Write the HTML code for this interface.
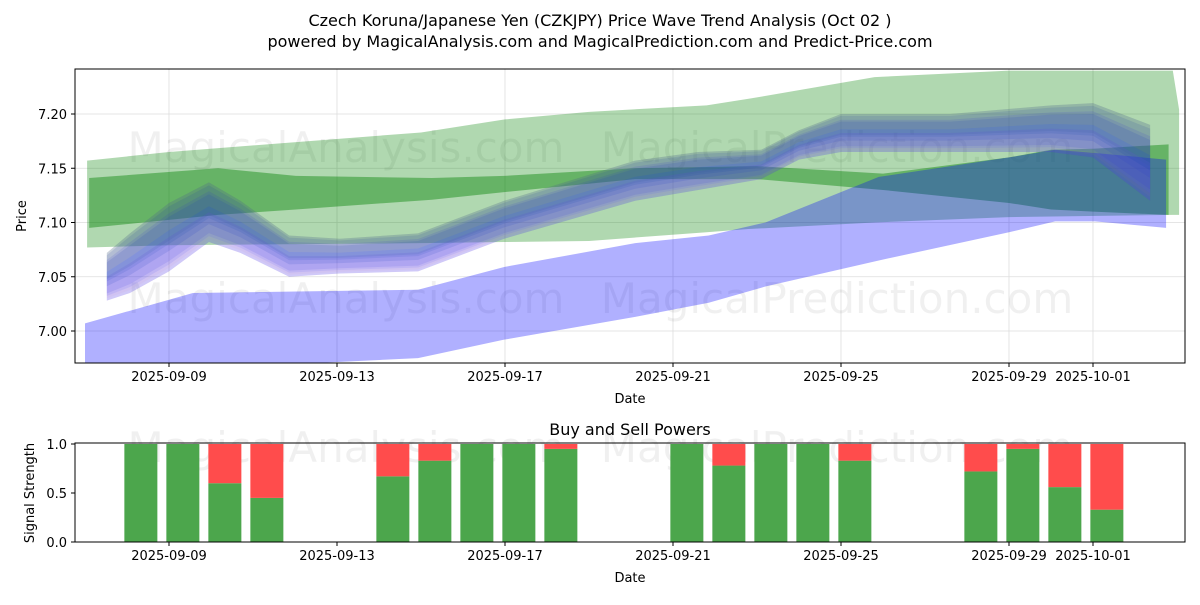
<!DOCTYPE html>
<html><head><meta charset="utf-8"><style>
body{margin:0;background:#fff;font-family:"Liberation Sans","DejaVu Sans",sans-serif;}
svg text{font-family:"DejaVu Sans","Liberation Sans",sans-serif;}
</style></head><body>
<svg id="chart" width="1200" height="600" xmlns="http://www.w3.org/2000/svg">
<rect width="1200" height="600" fill="#fff"/>
<text x="600" y="26" font-size="16" text-anchor="middle">Czech Koruna/Japanese Yen (CZKJPY) Price Wave Trend Analysis (Oct 02 )</text>
<text x="600" y="47" font-size="16" text-anchor="middle">powered by MagicalAnalysis.com and MagicalPrediction.com and Predict-Price.com</text>
<g id="topg"></g><g id="bottomg"></g>
</svg>
<script>
const NS='http://www.w3.org/2000/svg';
// ---- data ----
const xTickDays=[0,4,8,12,16,20,22];
const xTickLabels=['2025-09-09','2025-09-13','2025-09-17','2025-09-21','2025-09-25','2025-09-29','2025-10-01'];
const yTicks=[7.00,7.05,7.10,7.15,7.20];
const lightGreenDays=[-1.95,0,6,8,10,12.8,13.8,16.8,20,23.9,24.05];
const lightGreenUpper=[7.157,7.165,7.183,7.195,7.202,7.208,7.214,7.234,7.240,7.240,7.204];
const lightGreenLower=[7.077,7.079,7.081,7.082,7.083,7.091,7.094,7.100,7.105,7.107,7.107];
const darkGreenDays=[-1.9,1.17,3.02,6.26,7.98,11.1,14,17,20,21,22,23.8];
const darkGreenUpper=[7.141,7.150,7.143,7.141,7.143,7.150,7.152,7.145,7.160,7.167,7.168,7.172];
const darkGreenLower=[7.095,7.107,7.112,7.121,7.128,7.140,7.140,7.130,7.118,7.112,7.110,7.107];
const blueDays=[-2.0,0.57,5.93,7.98,11.1,12.85,14.2,16.9,20,21.1,22.05,23.74];
const blueUpper=[7.007,7.035,7.038,7.059,7.081,7.088,7.100,7.142,7.160,7.167,7.164,7.158];
const blueLower=[6.940,6.965,6.975,6.992,7.013,7.026,7.041,7.065,7.091,7.101,7.101,7.095];
const waveDays=[-1.48,-0.93,0,0.95,1.7,2.86,4.07,5.93,7.98,11.1,12.6,14.1,15,16,18.6,21,22,23.36];
const waveUpper=[7.072,7.09,7.118,7.137,7.12,7.088,7.085,7.09,7.12,7.157,7.165,7.167,7.185,7.200,7.200,7.208,7.210,7.19];
const waveLower=[7.028,7.035,7.055,7.082,7.072,7.050,7.053,7.055,7.085,7.120,7.130,7.140,7.158,7.165,7.165,7.165,7.160,7.120];
const barDays=[-0.67,0.33,1.33,2.33,5.33,6.33,7.33,8.33,9.33,12.33,13.33,14.33,15.33,16.33,19.33,20.33,21.33,22.33];
const buyValues=[1,1,0.6,0.45,0.67,0.83,1,1,0.95,1,0.78,1,1,0.83,0.72,0.95,0.56,0.33];
// ---- scales ----
const X0=75,X1=1185;
const xs=d=>169+42*d;
const ys=v=>331-(v-7.0)*1085;
const T0=69,T1=363,B0=443,B1=542;
const yb=v=>B1-(v)*(B1-B0-1);
function el(tag,attrs,parent,text){const e=document.createElementNS(NS,tag);for(const k in attrs)e.setAttribute(k,attrs[k]);if(text!==undefined)e.textContent=text;parent.appendChild(e);return e;}
const topG=document.getElementById('topg'),botG=document.getElementById('bottomg');
const defs=el('defs',{},topG);
const cp=el('clipPath',{id:'cp'},defs);el('rect',{x:X0,y:T0,width:X1-X0,height:T1-T0},cp);
xTickDays.forEach(d=>{const g=el('line',{x1:xs(d),x2:xs(d),y1:T0,y2:T1,stroke:'#ddd','stroke-width':0.8},topG);});
yTicks.forEach(v=>{const g=el('line',{x1:X0,x2:X1,y1:ys(v),y2:ys(v),stroke:'#ddd','stroke-width':0.8},topG);});
[['MagicalAnalysis.com',346,162],['MagicalPrediction.com',837,162],['MagicalAnalysis.com',346,313],['MagicalPrediction.com',837,313]].forEach(w=>{const t=el('text',{x:w[1],y:w[2],'font-size':42,'text-anchor':'middle',fill:'#000','fill-opacity':0.06},topG,w[0]);});
const plot=el('g',{'clip-path':'url(#cp)'},topG);
function band(days,up,lo,fill,op,name,a=0,b=1){const pts=[];days.forEach((d,i)=>pts.push(xs(d)+','+ys(lo[i]+(up[i]-lo[i])*b)));for(let i=days.length-1;i>=0;i--)pts.push(xs(days[i])+','+ys(lo[i]+(up[i]-lo[i])*a));const p=el('polygon',{points:pts.join(' '),fill:fill,'fill-opacity':op},plot);return p;}
band(lightGreenDays,lightGreenUpper,lightGreenLower,'#008000',0.31,'light-green-band');
band(darkGreenDays,darkGreenUpper,darkGreenLower,'#008000',0.42,'dark-green-band');
band(blueDays,blueUpper,blueLower,'#0000ff',0.31,'blue-band');
const ens=[[0,0.5,'#ff6060',0.06],[0.05,0.4,'#ff8080',0.05],[0.45,1,'#2e8b57',0.14],[0.6,1,'#c08020',0.08],[0,1,'#4040ff',0.12],[0,0.6,'#3030ff',0.13],[0.15,0.85,'#3030e0',0.12],[0.3,0.8,'#2040c0',0.14],[0.4,0.95,'#2040a0',0.14],[0.1,0.5,'#5050ff',0.12]];
ens.forEach(e=>band(waveDays,waveUpper,waveLower,e[2],e[3],'wave-band',e[0],e[1]));
el('rect',{x:X0,y:T0,width:X1-X0,height:T1-T0,fill:'none',stroke:'#000','stroke-width':1},topG);
xTickDays.forEach((d,i)=>{el('line',{x1:xs(d),x2:xs(d),y1:T1,y2:T1+4,stroke:'#000'},topG);const t=el('text',{x:xs(d),y:T1+18,'font-size':13,'text-anchor':'middle'},topG,xTickLabels[i]);});
yTicks.forEach(v=>{el('line',{x1:X0-4,x2:X0,y1:ys(v),y2:ys(v),stroke:'#000'},topG);const t=el('text',{x:X0-8,y:ys(v)+5,'font-size':13,'text-anchor':'end'},topG,v.toFixed(2));});
el('text',{x:630,y:403,'font-size':13,'text-anchor':'middle',},topG,'Date');
el('text',{x:26,y:216,'font-size':13,'text-anchor':'middle',transform:'rotate(-90 26 216)',},topG,'Price');
el('text',{x:630,y:435,'font-size':16,'text-anchor':'middle',},botG,'Buy and Sell Powers');
[['MagicalAnalysis.com',346,462],['MagicalPrediction.com',837,462]].forEach(w=>{const t=el('text',{x:w[1],y:w[2],'font-size':42,'text-anchor':'middle',fill:'#000','fill-opacity':0.06},botG,w[0]);});
barDays.forEach((d,i)=>{const w=33,x=xs(d)-w/2,b=buyValues[i];
const g=el('rect',{x:x,y:yb(b),width:w,height:yb(0)-yb(b),fill:'#4ca64c'},botG);
const r=el('rect',{x:x,y:yb(1),width:w,height:yb(b)-yb(1),fill:'#ff4c4c'},botG);});
el('rect',{x:X0,y:B0,width:X1-X0,height:B1-B0,fill:'none',stroke:'#000','stroke-width':1},botG);
xTickDays.forEach((d,i)=>{el('line',{x1:xs(d),x2:xs(d),y1:B1,y2:B1+4,stroke:'#000'},botG);const t=el('text',{x:xs(d),y:B1+18,'font-size':13,'text-anchor':'middle'},botG,xTickLabels[i]);});
[0,0.5,1].forEach(v=>{el('line',{x1:X0-4,x2:X0,y1:yb(v),y2:yb(v),stroke:'#000'},botG);const t=el('text',{x:X0-8,y:yb(v)+5,'font-size':13,'text-anchor':'end'},botG,v.toFixed(1));});
el('text',{x:630,y:582,'font-size':13,'text-anchor':'middle',},botG,'Date');
el('text',{x:34,y:493,'font-size':13,'text-anchor':'middle',transform:'rotate(-90 34 493)',},botG,'Signal Strength');
</script>
</body></html>
